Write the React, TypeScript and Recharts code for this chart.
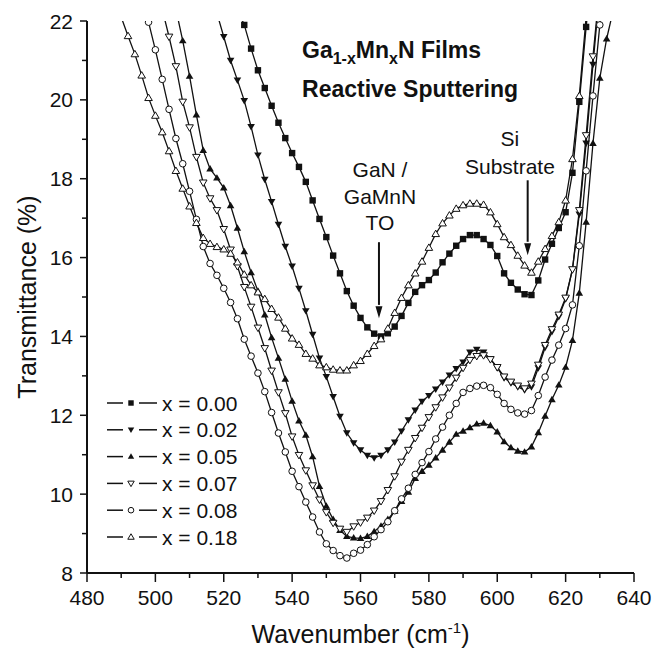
import React from "react";
import { LineChart, Line, XAxis, YAxis, Legend, ReferenceLine, ReferenceDot, Label } from "recharts";

// wavenumber grid (cm-1), every 2
const wavenumbers = [
  490, 492, 494, 496, 498, 500, 502, 504, 506, 508, 510, 512, 514, 516, 518, 520, 522, 524, 526, 528,
  530, 532, 534, 536, 538, 540, 542, 544, 546, 548, 550, 552, 554, 556, 558, 560, 562, 564, 566, 568,
  570, 572, 574, 576, 578, 580, 582, 584, 586, 588, 590, 592, 594, 596, 598, 600, 602, 604, 606, 608,
  610, 612, 614, 616, 618, 620, 622, 624, 626, 628, 630, 632, 634,
];

const n = null;
// transmittance (%) per Mn fraction
const x000 = [
  n, n, n, n, n, n, n, n, n, n, n, n, n, n, n, n, n,
  22.3, 21.9, 21.3, 20.75, 20.3, 19.85, 19.42, 19.03, 18.65, 18.3,
  17.92, 17.45, 16.98, 16.52, 16.05, 15.6, 15.15, 14.78, 14.47, 14.23,
  14.07, 14.0, 14.08, 14.25, 14.52, 14.85, 15.13, 15.3, 15.43, 15.62,
  15.88, 16.1, 16.3, 16.47, 16.57, 16.57, 16.47, 16.32, 16.04, 15.6,
  15.36, 15.19, 15.07, 15.05, 15.42, 15.95, 16.35, 16.75, 17.15, 18.15,
  19.95, 21.85, 23.5, n, n, n,
];
const x002 = [
  n, n, n, n, n, n, n, n, n, n, n, n, n, n,
  22.2, 21.6, 21.0, 20.5, 19.98, 19.32, 18.6, 17.98, 17.42, 16.84,
  16.28, 15.78, 15.22, 14.65, 14.05, 13.45, 12.98, 12.47, 11.97, 11.55,
  11.3, 11.12, 10.98, 10.92, 10.98, 11.12, 11.32, 11.6, 11.88, 12.13,
  12.35, 12.5, 12.66, 12.84, 13.02, 13.18, 13.35, 13.6, 13.67, 13.6,
  13.43, 13.2, 12.95, 12.82, 12.72, 12.64, 12.72, 13.2, 13.72, 14.12,
  14.5, 14.95, 15.7, 17.1, 18.9, 20.9, 22.8, n, n,
];
const x005 = [
  n, n, n, n, n, n, n, n,
  22.3, 21.5, 20.6, 19.62, 18.72, 18.25, 18.02, 17.77, 17.32, 16.75,
  16.15, 15.62, 15.15, 14.55, 13.97, 13.45, 12.92, 12.36, 11.86, 11.5,
  10.95, 10.2, 9.7, 9.36, 9.08, 8.93, 8.89, 8.88, 8.93, 9.05,
  9.19, 9.36, 9.57, 9.82, 10.05, 10.4, 10.58, 10.74, 10.92, 11.12,
  11.32, 11.52, 11.6, 11.69, 11.78, 11.8, 11.74, 11.58, 11.33, 11.18,
  11.09, 11.07, 11.2, 11.56, 11.98, 12.4, 12.77, 13.22, 13.9, 15.1,
  16.9, 18.9, 20.55, 21.55, 22.3,
];
const x007 = [
  n, n, n, n, n, n,
  22.3, 21.6, 20.85, 19.95, 19.3, 18.55, 17.9, 17.5, 17.2, 16.72,
  16.2, 15.78, 15.25, 14.75, 14.22, 13.7, 13.13, 12.58, 12.05, 11.46,
  10.99, 10.6, 10.22, 9.86, 9.54, 9.27, 9.12, 9.04, 9.18, 9.28,
  9.4, 9.58, 9.82, 10.1, 10.45, 10.82, 11.12, 11.42, 11.68, 11.95,
  12.2, 12.45, 12.7, 12.95, 13.2, 13.4, 13.5, 13.52, 13.42, 13.22,
  12.98, 12.85, 12.75, 12.68, 12.8, 13.28, 13.78, 14.18, 14.55, 14.98,
  15.7, 17.2, 19.1, 21.1, 22.9, n, n,
];
const x008 = [
  n, n, n,
  22.6, 21.97, 21.27, 20.52, 19.76, 19.02, 18.38, 17.68, 16.97, 16.28,
  15.85, 15.55, 15.22, 14.86, 14.45, 13.93, 13.5, 13.07, 12.6, 12.07,
  11.55, 11.07, 10.58, 10.19, 9.8, 9.42, 9.04, 8.74, 8.57, 8.44,
  8.38, 8.5, 8.58, 8.72, 8.92, 9.1, 9.3, 9.58, 9.88, 10.15,
  10.5, 10.8, 11.08, 11.4, 11.7, 12.0, 12.3, 12.58, 12.68, 12.74,
  12.76, 12.7, 12.53, 12.3, 12.15, 12.06, 12.03, 12.12, 12.5, 12.97,
  13.4, 13.78, 14.2, 14.8, 16.3, 18.2, 20.1, 21.9, 23.5, n,
];
const x018 = [
  22.1, 21.62, 21.16, 20.62, 20.05, 19.6, 19.18, 18.7, 18.2, 17.75,
  17.3, 16.88, 16.5, 16.35, 16.27, 16.21, 16.1, 15.88, 15.57, 15.3,
  15.12, 14.95, 14.7, 14.48, 14.2, 13.95, 13.79, 13.56, 13.44, 13.27,
  13.22, 13.16, 13.14, 13.14, 13.27, 13.38, 13.56, 13.76, 13.93, 14.2,
  14.6, 14.98, 15.3, 15.6, 15.9, 16.25, 16.6, 16.87, 17.07, 17.24,
  17.33, 17.37, 17.37, 17.34, 17.15, 16.85, 16.52, 16.32, 16.05, 15.8,
  15.62, 15.9, 16.22, 16.55, 16.9, 17.45, 18.5, 20.1, 22.1, n, n, n, n,
];

const seriesNames = ["x = 0.00", "x = 0.02", "x = 0.05", "x = 0.07", "x = 0.08", "x = 0.18"];
const seriesMarkers = ["square", "down", "up", "downOpen", "circle", "upOpen"];
const seriesValues = [x000, x002, x005, x007, x008, x018];

const xTicks = [480, 490, 500, 510, 520, 530, 540, 550, 560, 570, 580, 590, 600, 610, 620, 630, 640];
const xLabelled = [480, 500, 520, 540, 560, 580, 600, 620, 640];
const yTicks = [8, 9, 10, 11, 12, 13, 14, 15, 16, 17, 18, 19, 20, 21, 22];
const yLabelled = [8, 10, 12, 14, 16, 18, 20, 22];

const rows = wavenumbers.map((w, i) => {
  const row: Record<string, number | null> = { w };
  seriesValues.forEach((vals, s) => {
    row[`s${s}`] = vals[i];
  });
  return row;
});

const INK = "#111";
const FONT = "'Liberation Sans', Arial, sans-serif";

function Marker({ kind, cx, cy, s = 1 }: { kind: string; cx: number; cy: number; s?: number }) {
  const k = 3.8 * s;
  switch (kind) {
    case "square":
      return <rect x={cx - 3.2 * s} y={cy - 3.2 * s} width={6.4 * s} height={6.4 * s} fill={INK} />;
    case "down":
      return <polygon points={`${cx - k},${cy - k * 0.7} ${cx + k},${cy - k * 0.7} ${cx},${cy + k}`} fill={INK} />;
    case "up":
      return <polygon points={`${cx - k},${cy + k * 0.7} ${cx + k},${cy + k * 0.7} ${cx},${cy - k}`} fill={INK} />;
    case "downOpen":
      return (
        <polygon
          points={`${cx - k},${cy - k * 0.7} ${cx + k},${cy - k * 0.7} ${cx},${cy + k}`}
          fill="#fff"
          stroke={INK}
          strokeWidth={1}
        />
      );
    case "circle":
      return <circle cx={cx} cy={cy} r={3.3 * s} fill="#fff" stroke={INK} strokeWidth={1} />;
    default:
      return (
        <polygon
          points={`${cx - k},${cy + k * 0.7} ${cx + k},${cy + k * 0.7} ${cx},${cy - k}`}
          fill="#fff"
          stroke={INK}
          strokeWidth={1}
        />
      );
  }
}

const dotFor = (kind: string) => (p: any) => {
  const key = `${kind}-${p.index}`;
  if (p.cx == null || p.cy == null || p.value == null) return <g key={key} />;
  return (
    <g key={key}>
      <Marker kind={kind} cx={p.cx} cy={p.cy} />
    </g>
  );
};

const BottomTick = ({ x, y, payload }: any) => {
  const major = xLabelled.includes(payload.value);
  return (
    <g>
      <line x1={x} x2={x} y1={y} y2={y + (major ? 9 : 5)} stroke={INK} strokeWidth={1.5} />
      {major && (
        <text x={x} y={y + 32} textAnchor="middle" fontSize={21} fill={INK}>
          {payload.value}
        </text>
      )}
    </g>
  );
};

const TopTick = ({ x, y, payload }: any) => {
  const major = xLabelled.includes(payload.value);
  return <line x1={x} x2={x} y1={y} y2={y + (major ? 6 : 4)} stroke={INK} strokeWidth={1.5} />;
};

const LeftTick = ({ x, y, payload }: any) => {
  const major = yLabelled.includes(payload.value);
  return (
    <g>
      <line x1={x} x2={x - (major ? 7 : 5)} y1={y} y2={y} stroke={INK} strokeWidth={1.5} />
      {major && (
        <text x={x - 14} y={y} dy="0.36em" textAnchor="end" fontSize={21} fill={INK}>
          {payload.value}
        </text>
      )}
    </g>
  );
};

const RightTick = ({ x, y, payload }: any) => {
  const major = yLabelled.includes(payload.value);
  return <line x1={x} x2={x - (major ? 6 : 4)} y1={y} y2={y} stroke={INK} strokeWidth={1.5} />;
};

const XTitle = ({ viewBox }: any) => (
  <text x={viewBox.x + viewBox.width / 2} y={viewBox.y + 70} textAnchor="middle" fontSize={25} fill={INK}>
    Wavenumber (cm
    <tspan fontSize={15} dy={-10}>-1</tspan>
    <tspan dy={10}>)</tspan>
  </text>
);

const YTitle = ({ viewBox }: any) => {
  const cx = viewBox.x + 27;
  const cy = viewBox.y + viewBox.height / 2;
  return (
    <text x={cx} y={cy} transform={`rotate(-90 ${cx} ${cy})`} textAnchor="middle" dy="0.36em" fontSize={25} fill={INK}>
      Transmittance (%)
    </text>
  );
};

const LegendBox = () => (
  <svg width={170} height={165} style={{ fontFamily: FONT }}>
    {seriesNames.map((name, i) => {
      const y = 14 + i * 26.8;
      return (
        <g key={name}>
          <line x1={7} x2={23} y1={y} y2={y} stroke={INK} strokeWidth={1.5} />
          <line x1={39} x2={57} y1={y} y2={y} stroke={INK} strokeWidth={1.5} />
          <Marker kind={seriesMarkers[i]} cx={31} cy={y} s={0.85} />
          <text x={62} y={y} dy="0.36em" fontSize={21} fill={INK}>
            {name}
          </text>
        </g>
      );
    })}
  </svg>
);

const TitleText = ({ cx, cy }: any) => (
  <g fontWeight="bold" fontSize={23} fill={INK}>
    <text x={cx} y={cy}>
      Ga
      <tspan fontSize={16} dy={6}>1-x</tspan>
      <tspan dy={-6}>Mn</tspan>
      <tspan fontSize={16} dy={6}>x</tspan>
      <tspan dy={-6}>N Films</tspan>
    </text>
    <text x={cx} y={cy + 39}>Reactive Sputtering</text>
  </g>
);

const GaNText = ({ cx, cy }: any) => (
  <g fontSize={21} fill={INK} textAnchor="middle">
    <text x={cx} y={cy}>GaN /</text>
    <text x={cx} y={cy + 27}>GaMnN</text>
    <text x={cx} y={cy + 53}>TO</text>
  </g>
);

const SiText = ({ cx, cy }: any) => (
  <g fontSize={21} fill={INK} textAnchor="middle">
    <text x={cx} y={cy}>Si</text>
    <text x={cx} y={cy + 28}>Substrate</text>
  </g>
);

const ArrowHead = ({ cx, cy }: any) => (
  <polygon points={`${cx - 3.5},${cy - 12} ${cx + 3.5},${cy - 12} ${cx},${cy}`} fill={INK} />
);

export default function App() {
  return (
    <div style={{ position: "absolute", left: 0, top: 0, fontFamily: FONT, background: "#fff" }}>
      <LineChart width={654} height={656} data={rows} margin={{ top: 21, right: 20, bottom: 0, left: 0 }}>
        <XAxis
          dataKey="w"
          type="number"
          domain={[480, 640]}
          ticks={xTicks}
          interval={0}
          allowDataOverflow
          height={83}
          tickSize={0}
          tickMargin={0}
          tickLine={false}
          tick={<BottomTick />}
          axisLine={{ stroke: INK, strokeWidth: 2 }}
        >
          <Label content={<XTitle />} />
        </XAxis>
        <XAxis
          xAxisId="top"
          orientation="top"
          dataKey="w"
          type="number"
          domain={[480, 640]}
          ticks={xTicks}
          interval={0}
          allowDataOverflow
          height={0}
          tickSize={0}
          tickMargin={0}
          tickLine={false}
          tick={<TopTick />}
          axisLine={{ stroke: INK, strokeWidth: 2 }}
        />
        <YAxis
          type="number"
          domain={[8, 22]}
          ticks={yTicks}
          interval={0}
          allowDataOverflow
          width={87}
          tickSize={0}
          tickMargin={0}
          tickLine={false}
          tick={<LeftTick />}
          axisLine={{ stroke: INK, strokeWidth: 2 }}
        >
          <Label content={<YTitle />} />
        </YAxis>
        <YAxis
          yAxisId="right"
          orientation="right"
          type="number"
          domain={[8, 22]}
          ticks={yTicks}
          interval={0}
          allowDataOverflow
          width={0}
          tickSize={0}
          tickMargin={0}
          tickLine={false}
          tick={<RightTick />}
          axisLine={{ stroke: INK, strokeWidth: 2 }}
        />
        {seriesNames.map((name, i) => (
          <Line
            key={name}
            name={name}
            dataKey={`s${i}`}
            stroke={INK}
            strokeWidth={1.3}
            dot={dotFor(seriesMarkers[i])}
            activeDot={false}
            isAnimationActive={false}
          />
        ))}
        <ReferenceLine segment={[{ x: 565.4, y: 16.39 }, { x: 565.4, y: 14.8 }]} stroke={INK} strokeWidth={2} />
        <ReferenceDot x={565.4} y={14.46} shape={<ArrowHead />} />
        <ReferenceLine segment={[{ x: 608.9, y: 17.96 }, { x: 608.9, y: 16.4 }]} stroke={INK} strokeWidth={2} />
        <ReferenceDot x={608.9} y={16.06} shape={<ArrowHead />} />
        <ReferenceDot x={542.9} y={21.06} shape={<TitleText />} />
        <ReferenceDot x={565.7} y={18.04} shape={<GaNText />} />
        <ReferenceDot x={603.7} y={18.83} shape={<SiText />} />
        <Legend
          layout="vertical"
          align="center"
          verticalAlign="middle"
          wrapperStyle={{ left: 100, top: 389, width: 170, height: 165 }}
          content={() => <LegendBox />}
        />
      </LineChart>
    </div>
  );
}
